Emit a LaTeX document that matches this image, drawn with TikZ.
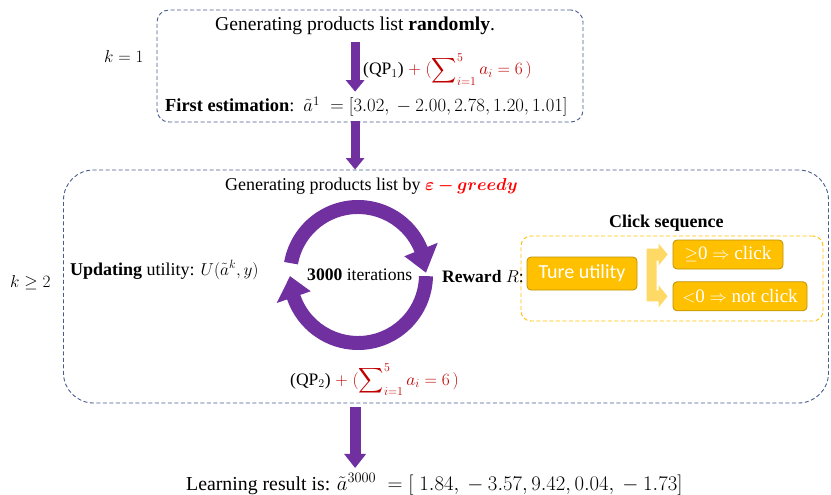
\documentclass[tikz,border=0pt]{standalone}
\usepackage{fontspec}
\usepackage{graphicx}
\usepackage{amsmath,amssymb,bm}
\setmainfont{Liberation Serif}
\newfontfamily\calibri{Carlito}
\usetikzlibrary{arrows.meta,positioning,calc}
\definecolor{grapepurple}{RGB}{112,48,160}
\definecolor{slateblue}{RGB}{72,92,140}
\definecolor{amber}{RGB}{255,192,0}
\definecolor{amberdark}{RGB}{191,144,0}
\definecolor{paleamber}{RGB}{255,217,102}
\definecolor{sumred}{RGB}{192,0,0}
\definecolor{hotred}{RGB}{255,0,0}
\newcommand{\fs}[1]{\fontsize{#1}{#1}\selectfont}
\newcommand{\qpsum}[1]{(QP$_{#1}$)\textcolor{sumred}{$\;+\;(\displaystyle\sum\nolimits_{i=1}^{5} a_i = 6\,)$}}

\begin{document}
\begin{tikzpicture}[x=1pt,y=1pt,
 font=\fs{18},
 t/.style={inner sep=0pt,anchor=base west},
 frame/.style={draw=slateblue,dash pattern=on 4pt off 2.5pt,line width=0.9pt},
 ob/.style={draw=amberdark,fill=amber,rounded corners=4pt,line width=0.8pt,text=white,inner sep=2pt},
 fat/.style={-{Triangle[width=18pt,length=11.5pt]},line width=9pt,draw=grapepurple},
 fatter/.style={fat,-{Triangle[width=21pt,length=14pt]},line width=11pt}]
\useasboundingbox (0,0) rectangle (831,-495);
% frames
\node[frame,rounded corners=12pt,minimum width=426,minimum height=112] (topbox) at (370,-66) {};
\node[frame,rounded corners=30pt,minimum width=765,minimum height=233] (bigbox) at (446,-286.5) {};
\node[draw=amber,dash pattern=on 4pt off 2.5pt,line width=0.9pt,rounded corners=10pt,minimum width=302,minimum height=85] (clickbox) at (672,-278.5) {};
% k = 1 step
\node[t,font=\fs{19.6}] (T1) at (215,-31) {Generating products list \textbf{randomly}.};
\node[t,font=\fs{17.5}] (Q1) at (363,-75) {\qpsum{1}};
\node[t] (FE) at (165,-112) {{\fs{18.4}\textbf{First estimation}:}\enspace{\fs{18.6}\scalebox{1.08}{$\tilde{a}^1\;= [3.02, {}-2.00, 2.78, 1.20, 1.01]$}}};
\node[t] (K1) at (104,-63) {$k=1$};
% k >= 2 loop
\node[t] (G2) at (225,-190) {Generating products list by \textcolor{hotred}{$\bm{\varepsilon-greedy}$}};
\node[t] (K2) at (10,-287) {$k\geq 2$};
\node[t] (UP) at (70,-275) {\textbf{Updating} utility: $U(\tilde{a}^k,y)$};
\node[t,font=\fs{17.6}] (IT) at (307,-280) {\textbf{3000} iterations};
\node[t,font=\fs{17.5}] (RW) at (442,-282) {\textbf{Reward} $R$:};
\node[t] (CS) at (609,-227) {\textbf{Click sequence}};
\node[ob,minimum width=110,minimum height=33,font=\calibri\fs{20}] (TU) at (582,-273.5) {Ture utility};
\node[ob,minimum width=110,minimum height=29,font=\fs{19}] (C1) at (728,-254.5) {$\geq$0 $\Rightarrow$ click};
\node[ob,minimum width=134,minimum height=29,font=\fs{19},below=12pt of C1.south west,anchor=north west] (C2) {$<$0 $\Rightarrow$ not click};
\node[t,font=\fs{17.5}] (Q2) at (290,-385) {\qpsum{2}};
\node[t,font=\fs{19.8}] (LR) at (186,-490) {Learning result is: $\tilde{a}^{3000}\;= [\;1.84, {}-3.57, 9.42, 0.04, {}-1.73]$};
% ring arrows
\coordinate (rc) at (358,-275);
\fill[grapepurple] ($(rc)+(170:75)$) arc[start angle=170,end angle=22,radius=75] -- ($(rc)+(22:86)$) -- ($(rc)+(2:68)$) -- ($(rc)+(22:50)$) -- ($(rc)+(22:61)$) arc[start angle=22,end angle=170,radius=61] -- cycle;
\fill[grapepurple] ($(rc)+(-1:75)$) arc[start angle=-1,end angle=-161,radius=75] -- ($(rc)+(-161:86)$) -- ($(rc)+(-179:68)$) -- ($(rc)+(-161:50)$) -- ($(rc)+(-161:61)$) arc[start angle=-161,end angle=-1,radius=61] -- cycle;
% bracket arrow
\coordinate (up) at ($(C1.west)+(-5,0)$);
\coordinate (dn) at ($(C2.west)+(-5,0)$);
\fill[paleamber] ($(up)+(-21,6)$) -- ++(12,0) -- ++(0,5) -- (up) -- ++(-9,-11) -- ++(0,5) -- ++(-2,0) -- ($(dn)+(-11,6)$) -- ++(2,0) -- ++(0,5) -- (dn) -- ++(-9,-11) -- ++(0,6) -- ++(-12,0) -- cycle;
% flow arrows
\draw[fat] ([yshift=-7pt]T1.south) -- ([yshift=5pt]T1.south |- FE.north);
\draw[fat] ([yshift=1pt]T1.south |- topbox.south) -- (T1.south |- bigbox.north);
\draw[fatter] ([yshift=-4pt]T1.south |- bigbox.south) -- ([yshift=5pt]T1.south |- LR.north);
\end{tikzpicture}
\end{document}
